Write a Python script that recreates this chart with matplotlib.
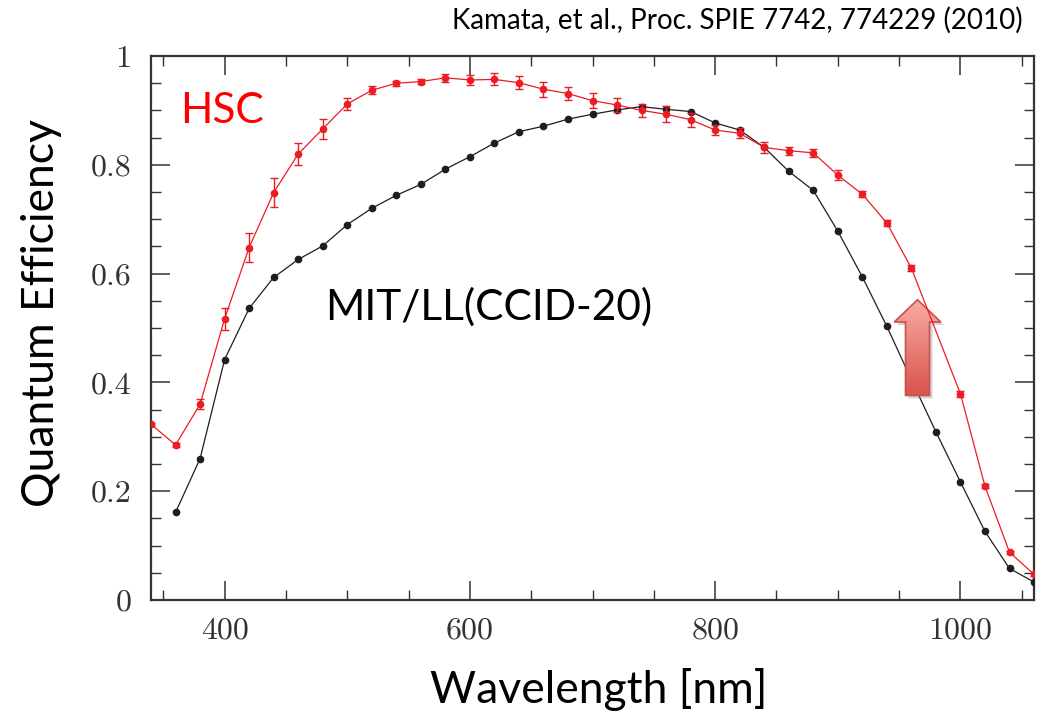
import numpy as np
import matplotlib.pyplot as plt
from matplotlib.patches import Polygon
from matplotlib.ticker import MultipleLocator, FuncFormatter
from matplotlib.colors import LinearSegmentedColormap
import matplotlib.transforms as mtransforms

# wavelength grid of the measurements [nm]
wl_hsc = np.array([340, 360, 380, 400, 420, 440, 460, 480, 500, 520, 540, 560, 580,
                   600, 620, 640, 660, 680, 700, 720, 740, 760, 780, 800, 820, 840,
                   860, 880, 900, 920, 940, 960, 1000, 1020, 1040, 1060])
qe_hsc = np.array([0.323, 0.285, 0.360, 0.517, 0.648, 0.749, 0.820, 0.866, 0.912,
                   0.937, 0.950, 0.953, 0.960, 0.956, 0.957, 0.951, 0.939, 0.931,
                   0.918, 0.910, 0.900, 0.893, 0.883, 0.864, 0.858, 0.832, 0.826,
                   0.822, 0.781, 0.746, 0.693, 0.610, 0.379, 0.209, 0.088, 0.047])
err_hsc = np.array([0.003, 0.003, 0.009, 0.020, 0.027, 0.027, 0.021, 0.018, 0.011,
                    0.007, 0.005, 0.005, 0.007, 0.0095, 0.011, 0.012, 0.0135, 0.012,
                    0.014, 0.0125, 0.0125, 0.015, 0.013, 0.0095, 0.009, 0.010, 0.0075,
                    0.008, 0.009, 0.006, 0.005, 0.005, 0.006, 0.004, 0.003, 0.003])

wl_mit = np.array([360, 380, 400, 420, 440, 460, 480, 500, 520, 540, 560, 580, 600,
                   620, 640, 660, 680, 700, 720, 740, 760, 780, 800, 820, 840, 860,
                   880, 900, 920, 940, 960, 980, 1000, 1020, 1040, 1060])
qe_mit = np.array([0.161, 0.260, 0.442, 0.536, 0.593, 0.626, 0.651, 0.690, 0.720,
                   0.744, 0.764, 0.792, 0.815, 0.840, 0.861, 0.871, 0.884, 0.893,
                   0.901, 0.907, 0.902, 0.898, 0.877, 0.864, 0.832, 0.788, 0.753,
                   0.678, 0.594, 0.503, 0.405, 0.309, 0.217, 0.126, 0.058, 0.033])

red = '#ec1c24'
dark = '#1e1e1e'
label_font = 'Lato'

fig = plt.figure(figsize=(10.43, 7.12), dpi=100)
ax = fig.add_axes([0.1448, 0.1573, 0.8466, 0.764])

ax.plot(wl_mit, qe_mit, '-o', color=dark, lw=0.9, ms=4.5, zorder=3)
ax.errorbar(wl_hsc, qe_hsc, yerr=err_hsc, fmt='-o', color=red, lw=0.9, ms=4.5,
            elinewidth=1.0, capsize=3, capthick=1.0, zorder=9)

ax.xaxis.set_major_locator(MultipleLocator(200))
ax.xaxis.set_minor_locator(MultipleLocator(50))
ax.yaxis.set_major_locator(MultipleLocator(0.2))
ax.yaxis.set_minor_locator(MultipleLocator(0.05))
ax.yaxis.set_major_formatter(FuncFormatter(lambda v, p: f'{v:g}'))
ax.tick_params(which='both', direction='in', top=True, right=True, color='#333333')
ax.tick_params(which='major', length=14, width=1.1)
ax.tick_params(which='minor', length=7, width=1.0)
ax.tick_params(axis='x', which='major', pad=12)
ax.tick_params(axis='y', which='major', pad=14)
for lab in ax.get_xticklabels() + ax.get_yticklabels():
    lab.set_fontfamily('cmr10')
    lab.set_fontsize(23)
    lab.set_color('#333333')
for sp in ax.spines.values():
    sp.set_linewidth(1.6)
    sp.set_color('#333333')

# axis labels
fig.text(0.574, 0.0126, 'Wavelength [nm]', fontsize=32, family=label_font,
         ha='center', va='baseline')
fig.text(0.040, 0.561, 'Quantum Efficiency', fontsize=32, family=label_font,
         rotation=90, ha='center', va='center')
fig.text(0.980, 0.959, 'Kamata, et al., Proc. SPIE 7742, 774229 (2010)',
         fontsize=20, family=label_font, ha='right', va='baseline')

ax.text(0.033, 0.877, 'HSC', color='#ff0000', fontsize=30.5, family=label_font,
        transform=ax.transAxes, va='baseline')
ax.text(0.197, 0.515, 'MIT/LL(CCID-20)', color='black', fontsize=30.5,
        family=label_font, transform=ax.transAxes, va='baseline')

# block arrow marking the improvement
cx, tip, head_y, base = 965, 0.552, 0.511, 0.376
hw, sw = 19, 9.8
arrow_xy = np.array([[cx, tip], [cx + hw, head_y], [cx + sw, head_y], [cx + sw, base],
                     [cx - sw, base], [cx - sw, head_y], [cx - hw, head_y]])
shadow_tr = mtransforms.offset_copy(ax.transData, fig=fig, x=3, y=-3, units='dots')
ax.add_patch(Polygon(arrow_xy, closed=True, facecolor='#888888', edgecolor='none',
                     alpha=0.35, transform=shadow_tr, zorder=5))
grad = np.linspace(0, 1, 256).reshape(-1, 1)
cmap = LinearSegmentedColormap.from_list('arr', ['#d9544c', '#f8aca5'])
img = ax.imshow(grad, cmap=cmap, origin='lower', aspect='auto',
                extent=(cx - hw, cx + hw, base, tip), zorder=6)
arrow = Polygon(arrow_xy, closed=True, facecolor='none', edgecolor='#c8524c',
                lw=1.2, zorder=7)
ax.add_patch(arrow)
img.set_clip_path(arrow)
ax.set_xlim(340, 1060)
ax.set_ylim(0, 1)

fig.savefig('out.png', dpi=100)
